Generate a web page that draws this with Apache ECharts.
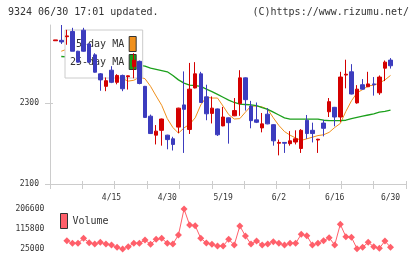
<!DOCTYPE html>
<html>
<head>
<meta charset="utf-8">
<title>9324 chart</title>
<script src="https://cdn.jsdelivr.net/npm/echarts@6/dist/echarts.min.js"></script>
<style>
    * { margin: 0; padding: 0; }
    body { background: #fff; }
    #main { width: 420px; height: 259px; }
</style>
</head>
<body>
<div id="main"></div>
<script>
var dates = ['4/1','4/2','4/3','4/4','4/7','4/8','4/9','4/10','4/11','4/14',
    '4/15','4/16','4/17','4/18','4/21','4/22','4/23','4/24','4/25','4/28',
    '4/30','5/1','5/7','5/8','5/9','5/12','5/13','5/14','5/15','5/16',
    '5/19','5/20','5/21','5/22','5/23','5/26','5/27','5/28','5/29','5/30',
    '6/2','6/3','6/4','6/5','6/6','6/9','6/10','6/11','6/12','6/13',
    '6/16','6/17','6/18','6/19','6/20','6/23','6/24','6/25','6/26','6/27','6/30'];
var tickLabels = ['4/15', '4/30', '5/19', '6/2', '6/16', '6/30'];

// [open, close, low, high]
var candles = [
    [2455, 2457, 2455, 2457], [2456, 2452, 2447, 2494], [2465, 2467, 2445, 2482], [2478, 2429, 2429, 2487],
    [2429, 2402, 2401, 2430], [2481, 2429, 2428, 2487], [2447, 2402, 2400, 2448], [2420, 2377, 2376, 2424],
    [2373, 2358, 2331, 2375], [2342, 2356, 2330, 2364], [2382, 2352, 2350, 2392], [2352, 2369, 2347, 2372],
    [2369, 2336, 2330, 2371], [2366, 2368, 2334, 2369], [2391, 2407, 2362, 2424], [2404, 2349, 2347, 2406],
    [2342, 2265, 2264, 2343], [2268, 2225, 2224, 2272], [2221, 2231, 2198, 2246], [2233, 2261, 2195, 2262],
    [2221, 2210, 2186, 2222], [2212, 2198, 2183, 2217], [2241, 2288, 2226, 2289], [2296, 2285, 2177, 2379],
    [2235, 2335, 2224, 2400], [2338, 2373, 2337, 2402], [2373, 2302, 2301, 2378], [2316, 2274, 2258, 2346],
    [2275, 2288, 2250, 2317], [2286, 2222, 2219, 2287], [2244, 2266, 2243, 2291], [2264, 2252, 2200, 2265],
    [2269, 2282, 2268, 2313], [2299, 2363, 2269, 2382], [2363, 2309, 2282, 2364], [2293, 2257, 2238, 2306],
    [2259, 2253, 2251, 2302], [2239, 2249, 2228, 2276], [2273, 2249, 2248, 2288], [2247, 2207, 2195, 2248],
    [2201, 2203, 2171, 2210], [2203, 2201, 2177, 2204], [2200, 2207, 2195, 2231], [2204, 2212, 2198, 2233],
    [2188, 2233, 2177, 2236], [2258, 2225, 2212, 2271], [2233, 2225, 2203, 2252], [2209, 2211, 2177, 2212],
    [2251, 2238, 2218, 2259], [2279, 2304, 2266, 2313], [2290, 2266, 2243, 2291], [2266, 2365, 2254, 2378],
    [2370, 2372, 2337, 2408], [2378, 2323, 2322, 2397], [2301, 2335, 2299, 2345], [2346, 2335, 2334, 2360],
    [2341, 2348, 2340, 2378], [2348, 2346, 2319, 2365], [2326, 2365, 2321, 2369], [2387, 2402, 2355, 2406],
    [2407, 2393, 2386, 2412]
];

var ma5 = ['-', 2429, 2434, 2440, 2444, 2441, 2436, 2426, 2408, 2394,
    2384, 2369, 2361, 2355, 2357, 2365, 2361, 2342, 2318, 2295,
    2262, 2240, 2226, 2239, 2248, 2264, 2296, 2315, 2313, 2313,
    2293, 2272, 2261, 2262, 2278, 2293, 2293, 2291, 2285, 2264,
    2245, 2230, 2221, 2214, 2208, 2212, 2216, 2220, 2222, 2228,
    2240, 2250, 2280, 2306, 2326, 2334, 2343, 2345, 2350, 2358, 2369];

var ma25 = ['-', 2416, 2415, 2414, 2414, 2412, 2411, 2409, 2407, 2406,
    2404, 2402, 2400, 2398, 2396, 2394, 2392, 2387, 2384, 2381,
    2378, 2369, 2358, 2350, 2345, 2344, 2342, 2335, 2329, 2322,
    2315, 2308, 2302, 2298, 2297, 2296, 2294, 2289, 2285, 2278,
    2271, 2264, 2261, 2261, 2261, 2261, 2261, 2261, 2258, 2257,
    2257, 2257, 2258, 2262, 2265, 2268, 2271, 2274, 2278, 2280, 2283];

var volumes = ['-', '-', 62700, 50900, 50900, 73600, 53600, 47700, 55400, 47700,
    43200, 32700, 25000, 35400, 50900, 50900, 65900, 46300, 69000, 73600,
    50900, 47700, 88600, 206600, 134000, 130800, 73600, 52200, 46300, 38600,
    38600, 69000, 43200, 129400, 84000, 47700, 61300, 43200, 47700, 58100,
    50900, 43200, 50900, 50900, 91700, 85400, 43200, 50900, 62700, 76300,
    43200, 137100, 80800, 78100, 26400, 32700, 55400, 35400, 28200, 61300, 32700];

var priceTicks = [2100, 2300];
var volumeTicks = [25000, 115800, 206600];

var mono = 'DejaVu Sans Mono';
var red = '#d40000', blue = '#3c3cbe';
var plain = function (v) { return String(v); };
var priceMax = Math.max.apply(null, candles.map(function (c) { return c[3]; }));
var volMin = Math.min.apply(null, volumes.filter(function (v) { return v !== '-'; }));
var volMax = Math.max.apply(null, volumes.filter(function (v) { return v !== '-'; }));

var chart = echarts.init(document.getElementById('main'));
var option = {
    animation: false,
    backgroundColor: '#fff',
    title: [
        { text: '9324 06/30 17:01 updated.', left: 8, top: 7, padding: 0,
          textStyle: { fontFamily: mono, fontSize: 10, fontWeight: 'normal', color: '#333' } },
        { text: '(C)https://www.rizumu.net/', right: 11, top: 7, padding: 0,
          textStyle: { fontFamily: mono, fontSize: 10, fontWeight: 'normal', color: '#333' } }
    ],
    legend: [
        {
            data: ['5-day MA', '25-day MA'],
            left: 65, top: 30,
            orient: 'vertical', align: 'right',
            itemWidth: 7, itemHeight: 15, itemGap: 2,
            padding: [6, 6, 8, 5],
            backgroundColor: '#fff', borderColor: '#ccc', borderWidth: 1,
            icon: 'rect', selectedMode: false, z: 2,
            itemStyle: { borderColor: '#333', borderWidth: 1 },
            textStyle: { fontFamily: mono, fontSize: 10, color: '#333' }
        },
        {
            data: ['Volume'],
            left: 60, top: 213, padding: 0,
            itemWidth: 7, itemHeight: 15,
            icon: 'rect', selectedMode: false,
            itemStyle: { borderColor: '#333', borderWidth: 1 },
            textStyle: { fontFamily: mono, fontSize: 10, color: '#333' }
        }
    ],
    grid: [
        { left: 50, right: 14, top: 25, bottom: 75 },
        { left: 52.9, right: 26.7, top: 25, bottom: 75 },
        { left: 52.9, right: 26.7, top: 209, bottom: 10 }
    ],
    xAxis: [
        { gridIndex: 0, type: 'value', min: 0, max: 11, interval: 1,
          axisLine: { lineStyle: { color: '#ccc' } },
          axisTick: { length: 5, lineStyle: { color: '#ccc' } },
          axisLabel: { show: false }, splitLine: { show: false } },
        { gridIndex: 0, type: 'value', min: 0, max: 11, interval: 1, position: 'bottom',
          axisLine: { show: false },
          axisTick: { inside: true, length: 3, lineStyle: { color: '#ccc' } },
          axisLabel: { show: false }, splitLine: { show: false } },
        { gridIndex: 1, type: 'category', data: dates,
          axisLine: { show: false }, axisTick: { show: false },
          axisLabel: {
              interval: function (i, v) { return tickLabels.indexOf(v) >= 0; },
              margin: 10, fontFamily: mono, fontSize: 8, color: '#333'
          } },
        { gridIndex: 2, type: 'category', data: dates, show: false }
    ],
    yAxis: [
        { gridIndex: 0, type: 'value', min: 2100, max: priceMax,
          axisLine: { show: true, lineStyle: { color: '#ccc' } },
          axisTick: { show: true, length: 5, customValues: priceTicks, lineStyle: { color: '#ccc' } },
          axisLabel: { customValues: priceTicks, formatter: plain, margin: 11,
                       fontFamily: mono, fontSize: 8, color: '#333' },
          splitLine: { show: false } },
        { gridIndex: 0, type: 'value', min: 2100, max: priceMax, position: 'left',
          axisLine: { show: false },
          axisTick: { show: true, inside: true, length: 3, customValues: priceTicks, lineStyle: { color: '#ccc' } },
          axisLabel: { show: false }, splitLine: { show: false } },
        { gridIndex: 1, type: 'value', min: 2100, max: priceMax, show: false },
        { gridIndex: 2, type: 'value', min: volMin, max: volMax,
          axisLine: { show: false }, axisTick: { show: false },
          axisLabel: { customValues: volumeTicks, formatter: plain, margin: 8.6,
                       fontFamily: mono, fontSize: 8, color: '#333' },
          splitLine: { show: false } }
    ],
    series: [
        {
            name: '5-day MA', type: 'line', xAxisIndex: 2, yAxisIndex: 2,
            data: ma5, symbol: 'none', z: 1, color: '#f0901c',
            lineStyle: { width: 1, color: '#f0901c' }
        },
        {
            name: '25-day MA', type: 'line', xAxisIndex: 2, yAxisIndex: 2,
            data: ma25, symbol: 'none', z: 1, color: '#1ca01c',
            lineStyle: { width: 1.3, color: '#1ca01c' }
        },
        {
            name: 'price', type: 'candlestick', xAxisIndex: 2, yAxisIndex: 2,
            data: candles, barWidth: 4, z: 3,
            itemStyle: { color: red, color0: blue, borderColor: red, borderColor0: blue, borderWidth: 1 }
        },
        {
            name: 'Volume', type: 'line', xAxisIndex: 3, yAxisIndex: 3,
            data: volumes, symbol: 'diamond', symbolSize: 7, showAllSymbol: true,
            color: '#ff5f6a',
            lineStyle: { width: 1, color: '#ff5f6a' },
            itemStyle: { color: '#ff5f6a' }
        }
    ]
};
chart.setOption(option);
</script>
</body>
</html>
